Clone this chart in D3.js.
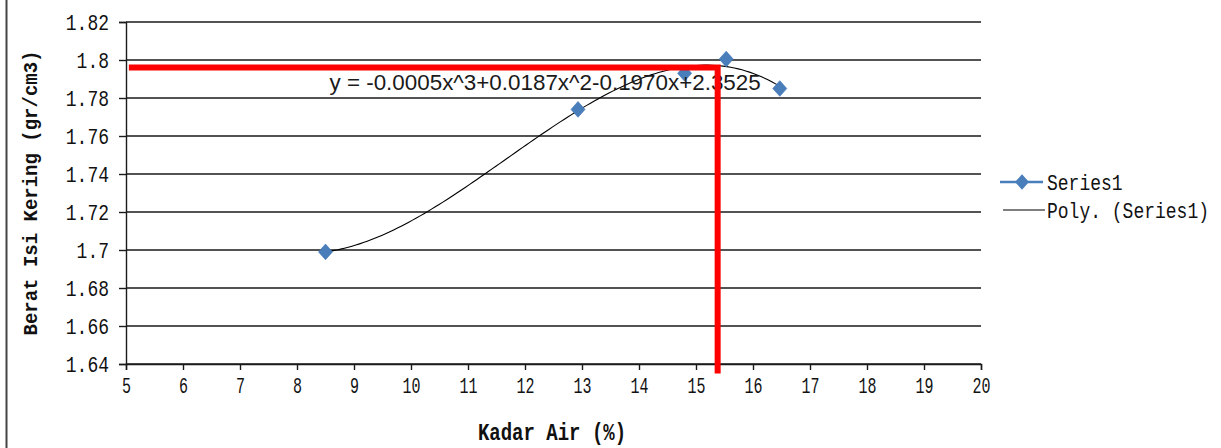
<!DOCTYPE html>
<html>
<head>
<meta charset="utf-8">
<script src="https://cdn.jsdelivr.net/npm/d3@7"></script>
<style>
  html, body { margin: 0; padding: 0; background: #fff; }
  svg { display: block; }
</style>
</head>
<body>
<svg id="chart" width="1221" height="448"></svg>
<script>
// Moisture content (%) against dry density (gr/cm3)
const kadarAir = [8.5, 12.93, 14.8, 15.53, 16.47];
const beratIsi = [1.699, 1.774, 1.793, 1.8005, 1.785];

const xTicks = [5, 6, 7, 8, 9, 10, 11, 12, 13, 14, 15, 16, 17, 18, 19, 20];
const yTicks = [1.64, 1.66, 1.68, 1.7, 1.72, 1.74, 1.76, 1.78, 1.8, 1.82];

// Optimum point (red guide lines)
const optimumX = [5.05, 15.38];
const optimumY = [1.796, 1.635];

const equationText = "y = -0.0005x^3+0.0187x^2-0.1970x+2.3525";
const equationAt = [8.57, 1.7842];

const legendLabels = ["Series1", "Poly. (Series1)"];

const svg = d3.select("#chart");
const plot = { left: 126, right: 981, top: 22, bottom: 364 };

const x = d3.scaleLinear().domain([5, 20]).range([plot.left, plot.right]);
const y = d3.scaleLinear().domain([1.64, 1.82]).range([plot.bottom, plot.top]);

const monoFont = "'Liberation Mono', 'DejaVu Sans Mono', monospace";
const blue = "#4a7ebb";

// chart frame edge on the left
svg.append("line")
  .attr("x1", 6.5).attr("x2", 6.5).attr("y1", 0).attr("y2", 448)
  .attr("stroke", "#444").attr("stroke-width", 2);

// horizontal gridlines
svg.append("g")
  .selectAll("line")
  .data(yTicks)
  .join("line")
  .attr("x1", plot.left).attr("x2", plot.right)
  .attr("y1", d => y(d)).attr("y2", d => y(d))
  .attr("stroke", "#1a1a1a").attr("stroke-width", 1.4);

// y axis
const yAxis = svg.append("g")
  .attr("transform", `translate(${plot.left},0)`)
  .call(d3.axisLeft(y).tickValues(yTicks).tickSize(7).tickFormat(d => String(+d.toFixed(2))));
yAxis.select(".domain").attr("stroke", "#1a1a1a").attr("stroke-width", 1.4);
yAxis.selectAll(".tick line").attr("stroke", "#1a1a1a").attr("stroke-width", 1.4);
yAxis.selectAll(".tick text").remove();
yAxis.selectAll(".tick")
  .append("text")
  .attr("transform", "translate(-17,0) scale(1,1.25)")
  .attr("text-anchor", "end")
  .attr("dy", "0.35em")
  .attr("fill", "#111")
  .style("font-family", monoFont)
  .style("font-size", "18px")
  .text(d => String(+d.toFixed(2)));

// x axis
const xAxis = svg.append("g")
  .attr("transform", `translate(0,${plot.bottom})`)
  .call(d3.axisBottom(x).tickValues(xTicks).tickSize(6).tickFormat(d => String(d)));
xAxis.select(".domain").attr("stroke", "#1a1a1a").attr("stroke-width", 1.4);
xAxis.selectAll(".tick line").attr("stroke", "#1a1a1a").attr("stroke-width", 1.4);
xAxis.selectAll(".tick text").remove();
xAxis.selectAll(".tick")
  .append("text")
  .attr("transform", "translate(0,21) scale(1,1.45)")
  .attr("text-anchor", "middle")
  .attr("dy", "0.35em")
  .attr("fill", "#111")
  .style("font-family", monoFont)
  .style("font-size", "15px")
  .text(d => String(d));

// axis titles
svg.append("text")
  .attr("transform", "translate(552,432) scale(1,1.25)")
  .attr("text-anchor", "middle")
  .attr("dy", "0.35em")
  .attr("fill", "#111")
  .style("font-family", monoFont)
  .style("font-size", "19px")
  .style("font-weight", "bold")
  .text("Kadar Air (%)");

svg.append("text")
  .attr("transform", "translate(30,193) rotate(-90) scale(1,1.1)")
  .attr("text-anchor", "middle")
  .attr("dy", "0.35em")
  .attr("fill", "#111")
  .style("font-family", monoFont)
  .style("font-size", "19px")
  .style("font-weight", "bold")
  .text("Berat Isi Kering (gr/cm3)");

// cubic least-squares trendline fitted to the series
function polyFit(xs, ys, degree) {
  const n = degree + 1;
  const A = Array.from({ length: n }, () => new Array(n + 1).fill(0));
  for (let i = 0; i < xs.length; i++) {
    for (let r = 0; r < n; r++) {
      for (let c = 0; c < n; c++) A[r][c] += Math.pow(xs[i], r + c);
      A[r][n] += ys[i] * Math.pow(xs[i], r);
    }
  }
  for (let p = 0; p < n; p++) {
    let best = p;
    for (let r = p + 1; r < n; r++) if (Math.abs(A[r][p]) > Math.abs(A[best][p])) best = r;
    [A[p], A[best]] = [A[best], A[p]];
    for (let r = 0; r < n; r++) {
      if (r === p) continue;
      const f = A[r][p] / A[p][p];
      for (let c = p; c <= n; c++) A[r][c] -= f * A[p][c];
    }
  }
  return A.map((row, i) => row[n] / row[i]);
}
const coef = polyFit(kadarAir, beratIsi, 3);
const trend = v => coef.reduce((s, c, i) => s + c * Math.pow(v, i), 0);
const [xMin, xMax] = d3.extent(kadarAir);
const trendPts = d3.range(0, 121).map(i => {
  const v = xMin + (xMax - xMin) * i / 120;
  return [v, trend(v)];
});
svg.append("path")
  .datum(trendPts)
  .attr("fill", "none")
  .attr("stroke", "#000")
  .attr("stroke-width", 1.1)
  .attr("d", d3.line().x(d => x(d[0])).y(d => y(d[1])));

// data markers
const diamond = d3.symbol().type(d3.symbolDiamond2).size(125);
svg.append("g")
  .selectAll("path")
  .data(kadarAir.map((v, i) => [v, beratIsi[i]]))
  .join("path")
  .attr("transform", d => `translate(${x(d[0])},${y(d[1])}) scale(1,1.12)`)
  .attr("d", diamond)
  .attr("fill", blue)
  .attr("stroke", "#3f74b4")
  .attr("stroke-width", 0.6);

// trendline equation
svg.append("text")
  .attr("x", x(equationAt[0]))
  .attr("y", y(equationAt[1]))
  .attr("fill", "#1a1a1a")
  .style("font-family", "'Liberation Sans', Arial, sans-serif")
  .style("font-size", "22.4px")
  .text(equationText);

// red guide lines to the optimum point
svg.append("path")
  .attr("fill", "none")
  .attr("stroke", "#ff0000")
  .attr("stroke-width", 6)
  .attr("d", d3.line()([
    [x(optimumX[0]), y(optimumY[0])],
    [x(optimumX[1]), y(optimumY[0])],
    [x(optimumX[1]), y(optimumY[1])]
  ]));

// legend
const legend = svg.append("g");
legend.append("line")
  .attr("x1", 1000).attr("x2", 1043).attr("y1", 182).attr("y2", 182)
  .attr("stroke", blue).attr("stroke-width", 2.5);
legend.append("path")
  .attr("transform", "translate(1022,182) scale(1,1.12)")
  .attr("d", diamond)
  .attr("fill", blue);
legend.append("line")
  .attr("x1", 1003).attr("x2", 1045).attr("y1", 210).attr("y2", 210)
  .attr("stroke", "#000").attr("stroke-width", 1.1);
legend.selectAll("text")
  .data(legendLabels)
  .join("text")
  .attr("transform", (d, i) => `translate(1047,${182 + i * 28}) scale(1,1.2)`)
  .attr("dy", "0.35em")
  .attr("fill", "#111")
  .style("font-family", monoFont)
  .style("font-size", "18px")
  .text(d => d);
</script>
</body>
</html>
